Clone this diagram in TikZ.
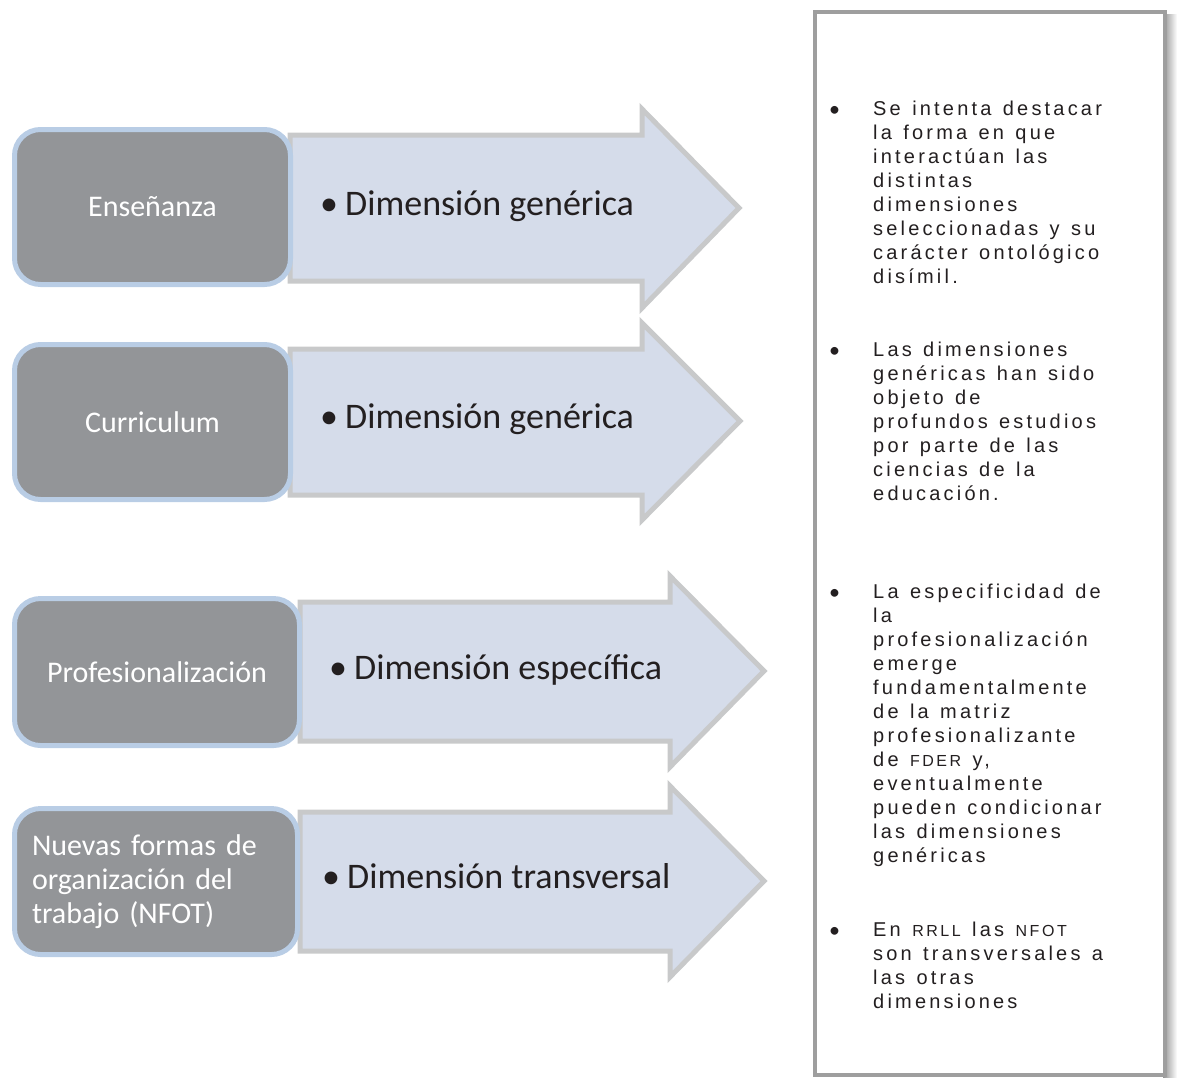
\documentclass[tikz,border=0pt]{standalone}
\usepackage{fontspec}
\setmainfont{Carlito}
\newfontfamily\panelfont[LetterSpace=16,WordSpace=1.3]{Liberation Sans}
\definecolor{boxfill}{HTML}{939598}
\definecolor{boxline}{HTML}{B9CDE5}
\definecolor{arrfill}{HTML}{D5DCEA}
\definecolor{arrline}{HTML}{C8C9CA}
\definecolor{panline}{HTML}{9E9E9E}
\definecolor{darktext}{HTML}{231F20}
\newcommand\smc[1]{{\fontsize{16}{24}\selectfont #1}}
\newcommand\dimtxt[1]{\makebox[25pt][l]{•}#1}
\tikzset{
  catbox/.style={draw=boxline, line width=5pt, fill=boxfill, rounded corners=26pt,
    text=white, font=\fontsize{30}{34}\selectfont, inner sep=0pt},
  arrowshape/.style={draw=arrline, line width=5pt, fill=arrfill, line join=miter},
  dimlabel/.style={anchor=base west, inner sep=0pt, text=darktext, font=\fontsize{36}{40}\selectfont},
  panelitem/.style={anchor=base west, inner sep=0pt, text=darktext},
  panelbullet/.style={anchor=base west, inner sep=0pt, text=darktext, font=\fontsize{22}{24}\selectfont}
}
\newcommand\paneltext[1]{\parbox[t]{290pt}{\raggedright\panelfont\fontsize{20}{24}\selectfont #1}}
\begin{document}
\begin{tikzpicture}[x=1pt,y=-1pt]
\useasboundingbox (0,0) rectangle (1177,1077);
% right panel
\shade[left color=gray!85, right color=white] (1163,14) rectangle (1177,1077);
\draw[draw=panline, line width=4pt, fill=white] (815,12) rectangle (1164.5,1075);
% arrows
\draw[arrowshape] (290,135) -- (642,135) -- (642,109) -- (739,208) -- (642,308) -- (642,281) -- (290,281) -- cycle;
\draw[arrowshape] (290,349) -- (642,349) -- (642,323) -- (740,421) -- (642,520) -- (642,495) -- (290,495) -- cycle;
\draw[arrowshape] (300,602) -- (670,602) -- (670,576) -- (764,671) -- (670,767) -- (670,741) -- (300,741) -- cycle;
\draw[arrowshape] (300,812) -- (670,812) -- (670,786) -- (764,881) -- (670,977) -- (670,951) -- (300,951) -- cycle;
% category boxes
\node[catbox, minimum width=276pt, minimum height=155pt] (ens) at (152.5,207) {Enseñanza};
\node[catbox, minimum width=276pt, minimum height=155pt] (cur) at (152.5,422) {Curriculum};
\node[catbox, minimum width=285pt, minimum height=147pt] (pro) at (157,672) {Profesionalización};
\node[catbox, minimum width=283pt, minimum height=146pt, text width=248pt, align=left] (nfot) at (156,881.5)
  {Nuevas formas de\\organización del\\trabajo (NFOT)};
% dimension labels
\node[dimlabel] (d1) at (320,215) {\dimtxt{Dimensión genérica}};
\node[dimlabel] (d2) at (320,428) {\dimtxt{Dimensión genérica}};
\node[dimlabel] (d3) at (329,679) {\dimtxt{Dimensión específica}};
\node[dimlabel] (d4) at (322,888) {\dimtxt{Dimensión transversal}};
% panel bullets and text
\node[panelbullet] (b1) at (829,116) {•};
\node[panelbullet] (b2) at (829,357) {•};
\node[panelbullet] (b3) at (829,599) {•};
\node[panelbullet] (b4) at (829,937) {•};
\node[panelitem] (t1) at (873,115) {\paneltext{Se intenta destacar\\la forma en que\\interactúan las\\distintas\\dimensiones\\seleccionadas y su\\carácter ontológico\\disímil.}};
\node[panelitem] (t2) at (873,356) {\paneltext{Las dimensiones\\genéricas han sido\\objeto de\\profundos estudios\\por parte de las\\ciencias de la\\educación.}};
\node[panelitem] (t3) at (873,598) {\paneltext{La especificidad de\\la\\profesionalización\\emerge\\fundamentalmente\\de la matriz\\profesionalizante\\de \smc{FDER} y,\\eventualmente\\pueden condicionar\\las dimensiones\\genéricas}};
\node[panelitem] (t4) at (873,936) {\paneltext{En \smc{RRLL} las \smc{NFOT}\\son transversales a\\las otras\\dimensiones}};
\end{tikzpicture}
\end{document}
